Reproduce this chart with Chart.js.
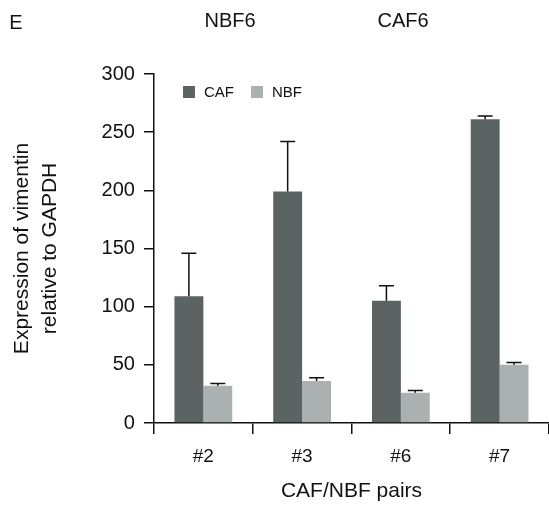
<!DOCTYPE html>
<html>
<head>
<meta charset="utf-8">
<script src="https://cdn.jsdelivr.net/npm/chart.js@4"></script>
<style>
  html, body { margin: 0; padding: 0; background: #fff; }
  #wrap { width: 549px; height: 505px; }
</style>
</head>
<body>
<div id="wrap"><canvas id="barChart" width="549" height="505"></canvas></div>
<script>
var categories = ['#2', '#3', '#6', '#7'];
var cafValues = [109, 199, 105, 261];
var cafErrors = [37, 43, 13, 3];
var nbfValues = [32, 36, 26, 50];
var nbfErrors = [2, 3, 2, 2];
var yTicks = [0, 50, 100, 150, 200, 250, 300];
var headerTexts = [
  { text: 'E', x: 16, y: 23 },
  { text: 'NBF6', x: 230, y: 21 },
  { text: 'CAF6', x: 403, y: 21 }
];

var FONT = '"Liberation Sans", Arial, Helvetica, sans-serif';

var errorBars = {
  id: 'errorBars',
  afterDatasetsDraw: function (chart) {
    var ctx = chart.ctx;
    var y = chart.scales.y;
    ctx.save();
    ctx.strokeStyle = '#111';
    ctx.lineWidth = 1.5;
    chart.data.datasets.forEach(function (ds, i) {
      var meta = chart.getDatasetMeta(i);
      meta.data.forEach(function (bar, j) {
        var top = y.getPixelForValue(ds.data[j]);
        var end = y.getPixelForValue(ds.data[j] + ds.errors[j]);
        ctx.beginPath();
        ctx.moveTo(bar.x, top);
        ctx.lineTo(bar.x, end);
        ctx.moveTo(bar.x - 7.5, end);
        ctx.lineTo(bar.x + 7.5, end);
        ctx.stroke();
      });
    });
    ctx.restore();
  }
};

var extras = {
  id: 'extras',
  afterDraw: function (chart) {
    var ctx = chart.ctx;
    ctx.save();
    ctx.fillStyle = '#111';
    ctx.font = '20px ' + FONT;
    ctx.textAlign = 'center';
    ctx.textBaseline = 'middle';
    headerTexts.forEach(function (h) {
      ctx.fillText(h.text, h.x, h.y);
    });
    // legend inside the plot
    var lx = chart.chartArea.left + 29;
    var ly = 92;
    ctx.font = '15px ' + FONT;
    ctx.textAlign = 'left';
    chart.data.datasets.forEach(function (ds) {
      ctx.fillStyle = ds.backgroundColor;
      ctx.fillRect(lx, ly - 6, 12, 12);
      ctx.fillStyle = '#111';
      ctx.fillText(ds.label, lx + 21, ly + 1);
      lx += 68;
    });
    ctx.restore();
  }
};

var chart = new Chart(document.getElementById('barChart').getContext('2d'), {
  type: 'bar',
  data: {
    labels: categories,
    datasets: [{
      label: 'CAF',
      data: cafValues,
      errors: cafErrors,
      backgroundColor: '#5b6363'
    }, {
      label: 'NBF',
      data: nbfValues,
      errors: nbfErrors,
      backgroundColor: '#abb0b1'
    }]
  },
  options: {
    responsive: false,
    animation: false,
    layout: { padding: { top: 74, right: 0, left: 9, bottom: 1 } },
    datasets: { bar: { categoryPercentage: 0.585, barPercentage: 1 } },
    plugins: {
      legend: { display: false },
      tooltip: { enabled: false }
    },
    scales: {
      x: {
        offset: true,
        grid: { display: true, drawOnChartArea: false, offset: true, tickLength: 11, color: '#111', lineWidth: 1.5 },
        border: { display: true, color: '#111', width: 1.5 },
        ticks: { color: '#111', font: { family: FONT, size: 19 }, padding: 11 },
        title: { display: true, text: 'CAF/NBF pairs', color: '#111', font: { family: FONT, size: 21 }, padding: { top: 0, bottom: 0 } }
      },
      y: {
        min: 0,
        max: 300,
        afterBuildTicks: function (axis) {
          axis.ticks = yTicks.map(function (v) { return { value: v }; });
        },
        grid: { display: true, drawOnChartArea: false, tickLength: 10, color: '#111', lineWidth: 1.5 },
        border: { display: true, color: '#111', width: 1.5 },
        ticks: { color: '#111', font: { family: FONT, size: 20 }, padding: 9 },
        title: { display: true, text: ['Expression of vimentin', 'relative to GAPDH'], color: '#111', font: { family: FONT, size: 21, lineHeight: 1.3 }, padding: { top: 0, bottom: 29 } }
      }
    }
  },
  plugins: [errorBars, extras]
});
</script>
</body>
</html>
